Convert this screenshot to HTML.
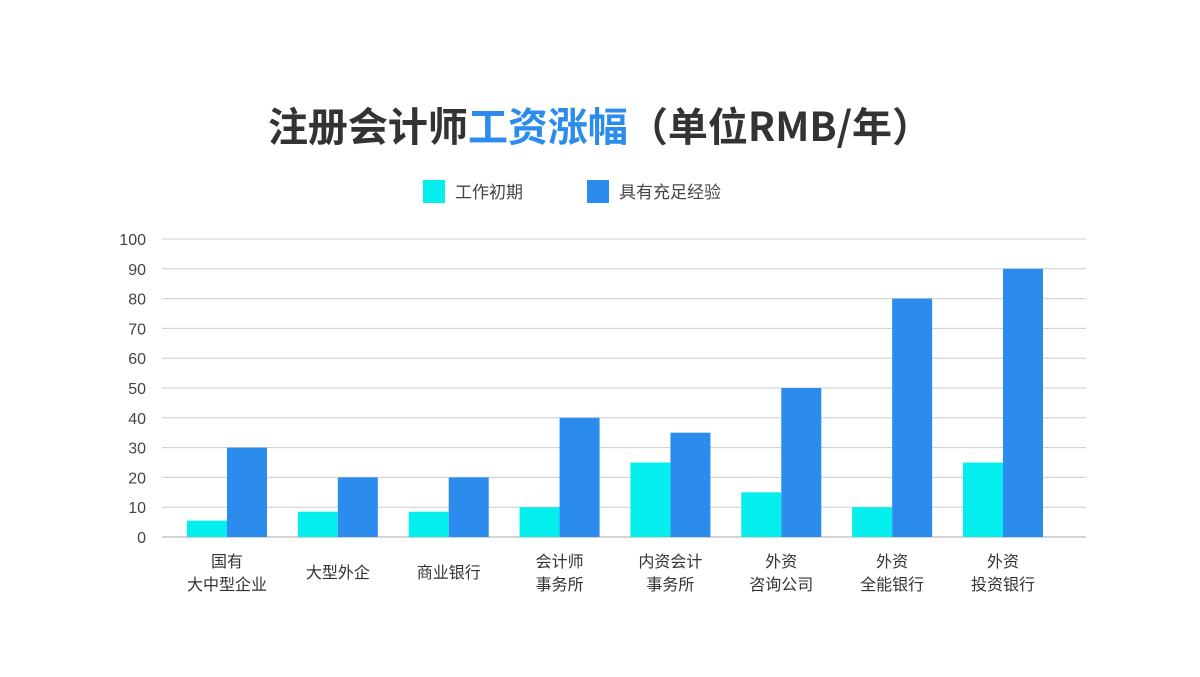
<!DOCTYPE html>
<html><head><meta charset="utf-8">
<style>
body{margin:0;background:#fff;}
svg text{font-family:"Liberation Sans","Noto Sans CJK SC",sans-serif;}
</style></head>
<body>
<svg id="chart" width="1200" height="672" xmlns="http://www.w3.org/2000/svg">
<text x="600" y="141" text-anchor="middle" font-size="40" font-weight="bold" fill="#333" style="font-family:'Noto Sans CJK SC',sans-serif">注册会计师<tspan fill="#2b8cee">工资涨幅</tspan>（单位RMB/年）</text>
<g>
<rect x="423" y="180" width="22" height="23" fill="#05eeee"/>
<text x="455" y="198" font-size="17" fill="#444">工作初期</text>
<rect x="587" y="180" width="22" height="23" fill="#2b8cee"/>
<text x="619" y="198" font-size="17" fill="#444">具有充足经验</text>
</g>
<g id="grid"></g><g id="bars"></g><g id="xlabels"></g>
</svg>
<script>
const categories=[["国有","大中型企业"],["大型外企"],["商业银行"],["会计师","事务所"],["内资会计","事务所"],["外资","咨询公司"],["外资","全能银行"],["外资","投资银行"]];
const entryValues=[5.5,8.5,8.5,10,25,15,10,25];
const experiencedValues=[30,20,20,40,35,50,80,90];
const yTicks=[0,10,20,30,40,50,60,70,80,90,100];
const NS="http://www.w3.org/2000/svg";
const y0=537,y1=239,xL=162,xR=1086;
const y=v=>y0-(v/100)*(y0-y1);
const cx=i=>227+i*(1003-227)/(categories.length-1);
function mk(t,a,p){const e=document.createElementNS(NS,t);for(const k in a)e.setAttribute(k,a[k]);p.appendChild(e);return e;}
const grid=document.getElementById('grid');
yTicks.forEach(t=>{
 const l=mk('line',{x1:xL,x2:xR,y1:y(t),y2:y(t),stroke:t===0?'#aaa':'#ccc','stroke-width':1},grid);
 
 
 const tx=mk('text',{x:146,y:y(t)+6,'text-anchor':'end','font-size':16,fill:'#444'},grid);
 tx.textContent=t;
 
 
});
const bars=document.getElementById('bars'),xl=document.getElementById('xlabels');
categories.forEach((c,i)=>{
 const a=mk('rect',{x:cx(i)-40,y:y(entryValues[i]),width:40,height:y0-y(entryValues[i]),fill:'#05eeee'},bars);
 
 
 const b=mk('rect',{x:cx(i),y:y(experiencedValues[i]),width:40,height:y0-y(experiencedValues[i]),fill:'#2b8cee'},bars);
 
 
 c.forEach((line,j)=>{
  const t=mk('text',{x:cx(i),y:(c.length===1?578:567)+j*23,'text-anchor':'middle','font-size':16,fill:'#333'},xl);
  t.textContent=line;
  
  
 });
});
</script>
</body></html>
